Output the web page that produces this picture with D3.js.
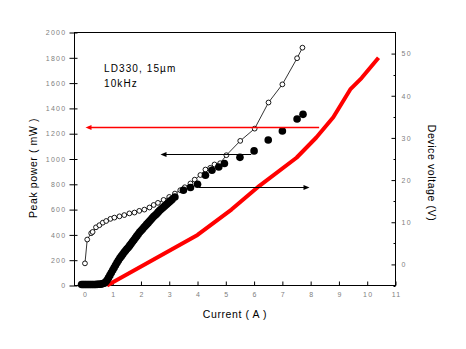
<!DOCTYPE html>
<html>
<head>
<meta charset="utf-8">
<script src="https://cdn.jsdelivr.net/npm/d3@7"></script>
<style>
  body { margin: 0; background: #fff; }
  svg text { font-family: Arial, "Liberation Sans", sans-serif; }
  .tick-label { fill: #808080; font-size: 7px; letter-spacing: 1.3px; }
  .axis-title { fill: #000; font-size: 10.5px; letter-spacing: 0.6px; }
</style>
</head>
<body>
<div id="chart"></div>
<script>
// Current (A) vs device voltage (V), open circles — right axis
const voltCurrent = [0.02, 0.1, 0.24, 0.29, 0.41, 0.53, 0.65, 0.77, 0.92, 1.06, 1.24, 1.41, 1.59, 1.77, 1.94,
  2.12, 2.3, 2.45, 2.6, 2.8, 3.0, 3.2, 3.39, 3.55, 3.75, 3.9, 4.1, 4.28, 4.45, 4.6, 4.8, 5.02, 5.51, 6.02, 6.51, 7.0, 7.52, 7.71];
const voltValues = [0.25, 5.9, 7.4, 7.7, 8.8, 9.3, 9.9, 10.3, 10.8, 11.1, 11.4, 11.7, 12.1, 12.3, 12.7,
  13.0, 13.5, 14.1, 14.6, 15.3, 16.0, 16.8, 17.6, 18.3, 19.2, 20.1, 21.2, 22.5, 22.9, 23.7, 24.0, 25.9, 29.3, 32.2, 38.4, 42.7, 48.9, 51.4];

// Current (A) vs peak power (mW), filled circles — left axis
const powerCurrent = [-0.1, -0.05, 0.0, 0.05, 0.1, 0.15, 0.2, 0.25, 0.3, 0.35, 0.4, 0.45, 0.5, 0.55, 0.6, 0.65,
  0.7, 0.75, 0.8, 0.85, 0.9, 0.95, 1.0, 1.05, 1.1, 1.15, 1.2, 1.25, 1.3, 1.35, 1.4, 1.45, 1.5, 1.55, 1.6, 1.65,
  1.7, 1.75, 1.8, 1.85, 1.9, 1.95, 2.0, 2.05, 2.1, 2.15, 2.2, 2.25, 2.3, 2.35, 2.4, 2.45, 2.5, 2.55, 2.6, 2.65,
  2.7, 2.75, 2.8, 2.85, 2.9, 2.95, 3.0, 3.05, 3.1, 3.2,
  3.5, 3.75, 4.0, 4.28, 4.51, 4.75, 4.95, 5.5, 6.0, 6.5, 7.0, 7.52, 7.73];
const powerValues = [8, 8, 8, 8, 8, 8, 8, 8, 8, 8, 8, 9, 10, 10, 12, 15,
  18, 28, 42, 60, 80, 100, 120, 140, 160, 180, 198, 215, 230, 245, 260, 275, 288, 300, 315, 330,
  345, 360, 375, 390, 405, 420, 432, 445, 458, 470, 483, 495, 508, 520, 533, 545, 555, 565, 578, 590,
  600, 610, 620, 630, 640, 650, 660, 670, 680, 700,
  753, 775, 800, 872, 911, 937, 964, 1013, 1064, 1150, 1221, 1316, 1353];

// Current (A) vs peak power (mW), red line — left axis
const redCurrent = [0.8, 4.0, 5.2, 6.2, 7.5, 8.2, 8.8, 9.4, 9.8, 10.4];
const redValues = [0, 400, 600, 790, 1010, 1170, 1330, 1550, 1640, 1800];

// Annotation arrows: from x1 to x2 (A) at level y (mW)
const arrowX1 = [8.3, 5.9, 4.04];
const arrowX2 = [0.04, 2.69, 7.96];
const arrowY = [1253, 1043, 779];
const arrowColor = ['#ff0000', '#000', '#000'];

const xTicks = [0, 1, 2, 3, 4, 5, 6, 7, 8, 9, 10, 11];
const yTicks = [0, 200, 400, 600, 800, 1000, 1200, 1400, 1600, 1800, 2000];
const yRTicks = [0, 10, 20, 30, 40, 50];
const yRMinor = [-5, 5, 15, 25, 35, 45];

const W = 466, H = 349;
const svg = d3.select('#chart').append('svg').attr('width', W).attr('height', H);

const x = d3.scaleLinear().domain([-0.35, 11]).range([74.5, 395.5]);
const y = d3.scaleLinear().domain([0, 2000]).range([285.5, 32.5]);
const yR = d3.scaleLinear().domain([-5, 55]).range([285.5, 32.5]);

// Frame
svg.append('rect')
  .attr('x', 74.5).attr('y', 32.5)
  .attr('width', 321).attr('height', 253)
  .attr('fill', 'none').attr('stroke', '#000').attr('stroke-width', 1);

// Bottom axis: inward ticks
const xAxis = svg.append('g').attr('transform', 'translate(0,285.5)')
  .call(d3.axisBottom(x).tickValues(xTicks).tickSize(-4).tickFormat(d3.format('d')))
  .call(g => g.select('.domain').remove());
xAxis.selectAll('line').attr('stroke', '#000');
xAxis.selectAll('text').attr('class', 'tick-label').attr('y', 7).attr('dy', '0.71em').attr('dx', '0.6px');

// Left axis: crossing ticks
const yAxis = svg.append('g').attr('transform', 'translate(74.5,0)')
  .call(d3.axisLeft(y).tickValues(yTicks).tickSize(5).tickFormat(d3.format('d')))
  .call(g => g.select('.domain').remove());
yAxis.selectAll('line').attr('stroke', '#000').attr('x2', 3).attr('x1', -5);
yAxis.selectAll('text').attr('class', 'tick-label').attr('x', -8);

// Right axis: inward ticks
const yRAxis = svg.append('g').attr('transform', 'translate(395.5,0)')
  .call(d3.axisRight(yR).tickValues(yRTicks).tickSize(-4).tickFormat(d3.format('d')))
  .call(g => g.select('.domain').remove());
yRAxis.selectAll('line').attr('stroke', '#000');
yRAxis.selectAll('text').attr('class', 'tick-label').attr('x', 6);
svg.append('g').selectAll('line').data(yRMinor).join('line')
  .attr('x1', 393.5).attr('x2', 395.5)
  .attr('y1', d => Math.round(yR(d)) + 0.5).attr('y2', d => Math.round(yR(d)) + 0.5)
  .attr('stroke', '#000');

// Axis titles
svg.append('text').attr('class', 'axis-title')
  .attr('text-anchor', 'middle')
  .attr('transform', 'translate(37,168) rotate(-90)')
  .text('Peak power ( mW )');
svg.append('text').attr('class', 'axis-title')
  .attr('text-anchor', 'middle')
  .attr('x', 235).attr('y', 318)
  .text('Current ( A )');
svg.append('text').attr('class', 'axis-title')
  .attr('text-anchor', 'middle')
  .attr('transform', 'translate(428,173) rotate(90)')
  .text('Device voltage (V)');

// Label
svg.append('text').attr('x', 104).attr('y', 72)
  .style('font-size', '10px').style('letter-spacing', '1.1px')
  .text('LD330, 15µm');
svg.append('text').attr('x', 104).attr('y', 87)
  .style('font-size', '10px').style('letter-spacing', '1.1px')
  .text('10kHz');

// Red line
const redData = redCurrent.map((c, i) => ({ c, v: redValues[i] }));
svg.append('path')
  .datum(redData)
  .attr('fill', 'none').attr('stroke', '#ff0000').attr('stroke-width', 4)
  .attr('stroke-linejoin', 'round')
  .attr('d', d3.line().x(d => x(d.c)).y(d => y(d.v)));

// Voltage line + open circles
const voltData = voltCurrent.map((c, i) => ({ c, v: voltValues[i] }));
svg.append('path')
  .datum(voltData)
  .attr('fill', 'none').attr('stroke', '#000').attr('stroke-width', 0.8)
  .attr('d', d3.line().x(d => x(d.c)).y(d => yR(d.v)));
svg.append('g').selectAll('circle').data(voltData).join('circle')
  .attr('cx', d => x(d.c)).attr('cy', d => yR(d.v)).attr('r', 2.4)
  .attr('fill', '#fff').attr('stroke', '#000').attr('stroke-width', 0.9);

// Filled power circles
const powerData = powerCurrent.map((c, i) => ({ c, v: powerValues[i] }));
svg.append('g').selectAll('circle').data(powerData).join('circle')
  .attr('cx', d => x(d.c)).attr('cy', d => y(d.v)).attr('r', 3.8)
  .attr('fill', '#000');

// Arrows
arrowY.forEach((lv, i) => {
  const x1 = x(arrowX1[i]), x2 = x(arrowX2[i]), yy = Math.round(y(lv)) + 0.5;
  const dir = x2 < x1 ? -1 : 1;
  svg.append('line')
    .attr('x1', x1).attr('x2', x2 - dir * 3).attr('y1', yy).attr('y2', yy)
    .attr('stroke', arrowColor[i]).attr('stroke-width', i === 0 ? 1.4 : 1);
  svg.append('path')
    .attr('d', `M${x2},${yy} L${x2 - dir * 6},${yy - 2.5} L${x2 - dir * 6},${yy + 2.5} Z`)
    .attr('fill', arrowColor[i]);
});
</script>
</body>
</html>
